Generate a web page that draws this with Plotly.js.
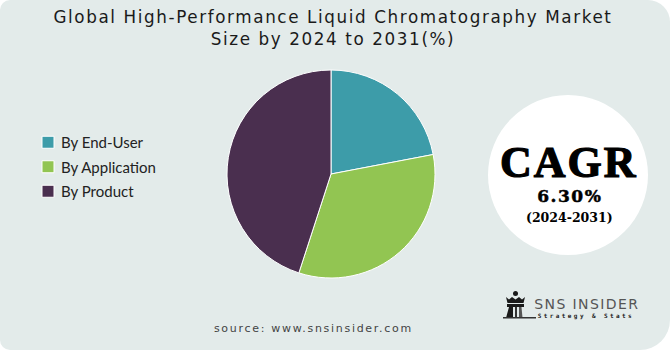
<!DOCTYPE html>
<html><head><meta charset="utf-8">
<script src="https://cdn.plot.ly/plotly-3.0.1.min.js"></script>
<style>
html,body{margin:0;padding:0;background:#ffffff;}
#chart{width:670px;height:350px;background:#e3ebea;border-radius:10px 22px 30px 10px;overflow:hidden;}
</style></head>
<body><div id="chart"></div>
<script>
const categories = ["By End-User", "By Application", "By Product"];
const shares = [22, 33, 45];
const sliceColors = ["#3d9ca9", "#92c552", "#4a2f4f"];
const titleText = "Global High-Performance Liquid Chromatography Market<br>Size by 2024 to 2031(%)";
const cagrLabel = "CAGR";
const cagrValue = "6.30%";
const cagrPeriod = "(2024-2031)";
const sourceText = "source: www.snsinsider.com";
const brandName = "SNS INSIDER";
const brandTag = "Strategy & Stats";

const W = 670, H = 350;
const px = x => x / W;
const py = y => 1 - y / H;

const trace = {
  type: "pie",
  labels: categories,
  values: shares,
  sort: false,
  direction: "clockwise",
  rotation: 0,
  textinfo: "none",
  hoverinfo: "label+percent",
  marker: {colors: sliceColors, line: {color: "#ffffff", width: 1}},
  domain: {x: [px(227), px(435)], y: [py(278), py(70)]}
};

function pathFrom(points){
  return "M " + points.map(p => px(p[0]) + "," + py(p[1])).join(" L ") + " Z";
}

const shapes = [
  {type: "circle", xref: "paper", yref: "paper", x0: px(488), x1: px(648), y0: py(255), y1: py(95),
   fillcolor: "#ffffff", line: {width: 0}, layer: "below"},
  // rook logo
  {type: "circle", xref: "paper", yref: "paper", x0: px(513), x1: px(518), y0: py(296), y1: py(291),
   fillcolor: "#1a1a1a", line: {width: 0}},
  {type: "path", xref: "paper", yref: "paper",
   path: pathFrom([[506,297],[509,299.5],[512,297],[515.5,299.5],[519,297],[522,299.5],[525,297],[523.5,303],[507.5,303]]),
   fillcolor: "#1a1a1a", line: {width: 0}},
  {type: "path", xref: "paper", yref: "paper",
   path: pathFrom([[507,304],[524,304],[524,307],[507,307]]),
   fillcolor: "#1a1a1a", line: {width: 0}},
  {type: "path", xref: "paper", yref: "paper",
   path: pathFrom([[509,307],[513,307],[513,318],[506,318]]),
   fillcolor: "#1a1a1a", line: {width: 0}},
  {type: "path", xref: "paper", yref: "paper",
   path: pathFrom([[515,307],[517,307],[517,318],[515,318]]),
   fillcolor: "#333333", line: {width: 0}},
  {type: "path", xref: "paper", yref: "paper",
   path: pathFrom([[519,307],[521.5,307],[522.5,318],[519,318]]),
   fillcolor: "#555555", line: {width: 0}},
  {type: "path", xref: "paper", yref: "paper",
   path: pathFrom([[503,317],[536,317],[536,318.5],[503,318.5]]),
   fillcolor: "#333333", line: {width: 0}}
];

const annotations = [
  {text: "<b>" + cagrLabel + "</b>", xref: "paper", yref: "paper", x: px(569), y: py(162), showarrow: false,
   font: {family: "Liberation Serif", size: 44, color: "#000000"}, xanchor: "center", yanchor: "middle"},
  {text: "<b>" + cagrValue + "</b>", xref: "paper", yref: "paper", x: px(570), y: py(196), showarrow: false,
   font: {family: "DejaVu Serif", size: 17, color: "#000000"}, xanchor: "center", yanchor: "middle"},
  {text: "<b>" + cagrPeriod + "</b>", xref: "paper", yref: "paper", x: px(569), y: py(217), showarrow: false,
   font: {family: "DejaVu Serif", size: 12.5, color: "#000000"}, xanchor: "center", yanchor: "middle"},
  {text: sourceText, xref: "paper", yref: "paper", x: px(313), y: py(328), showarrow: false,
   font: {family: "DejaVu Sans", size: 11, color: "#444444"}, xanchor: "center", yanchor: "middle"},
  {text: brandName, xref: "paper", yref: "paper", x: px(587), y: py(304), showarrow: false,
   font: {family: "DejaVu Sans", size: 14, color: "#555555"}, xanchor: "center", yanchor: "middle"},
  {text: "<b>" + brandTag + "</b>", xref: "paper", yref: "paper", x: px(586), y: py(316), showarrow: false,
   font: {family: "DejaVu Sans Mono", size: 6, color: "#222222"}, xanchor: "center", yanchor: "middle"}
];

const layout = {
  width: W, height: H,
  margin: {l: 0, r: 0, t: 0, b: 0},
  paper_bgcolor: "rgba(0,0,0,0)",
  plot_bgcolor: "rgba(0,0,0,0)",
  title: {text: titleText, x: px(333), xanchor: "center", y: py(23), yanchor: "top", yref: "container",
          font: {family: "DejaVu Sans", size: 16.8, color: "#1a1a1a"}},
  showlegend: true,
  legend: {x: px(28), y: py(126), xanchor: "left", yanchor: "top", bgcolor: "rgba(0,0,0,0)",
           font: {family: "Lato", size: 15, color: "#222222"}, itemwidth: 30, tracegroupgap: 0},
  shapes: shapes,
  annotations: annotations
};

Plotly.newPlot("chart", [trace], layout, {displayModeBar: false, staticPlot: true}).then(() => {
  document.querySelectorAll(".annotation-text").forEach(t => {
    const s = t.textContent;
    if (s === sourceText) t.style.letterSpacing = "1.7px";
    if (s === brandTag) t.style.letterSpacing = "2.4px";
    if (s === brandName) t.style.letterSpacing = "1.4px";
    if (s === cagrLabel) { t.style.letterSpacing = "2px"; t.style.stroke = "#000"; t.style.strokeWidth = "1.2px"; }
    if (s === cagrValue) { t.style.letterSpacing = "1.5px"; t.style.stroke = "#000"; t.style.strokeWidth = "0.5px"; }
  });
  const tt = document.querySelector(".gtitle");
  if (tt) tt.style.letterSpacing = "1.6px";
  const items = document.querySelectorAll(".legend .traces");
  let y0 = null;
  items.forEach((g, i) => {
    const m = /translate\(\s*([-\d.]+)[ ,]+([-\d.]+)\s*\)/.exec(g.getAttribute("transform") || "");
    if (!m) return;
    if (y0 === null) y0 = parseFloat(m[2]);
    g.setAttribute("transform", "translate(" + m[1] + "," + (y0 + i * 24.5) + ")");
    const t = g.querySelector(".legendtext");
    if (t) t.setAttribute("x", 33);
  });
});
</script></body></html>
